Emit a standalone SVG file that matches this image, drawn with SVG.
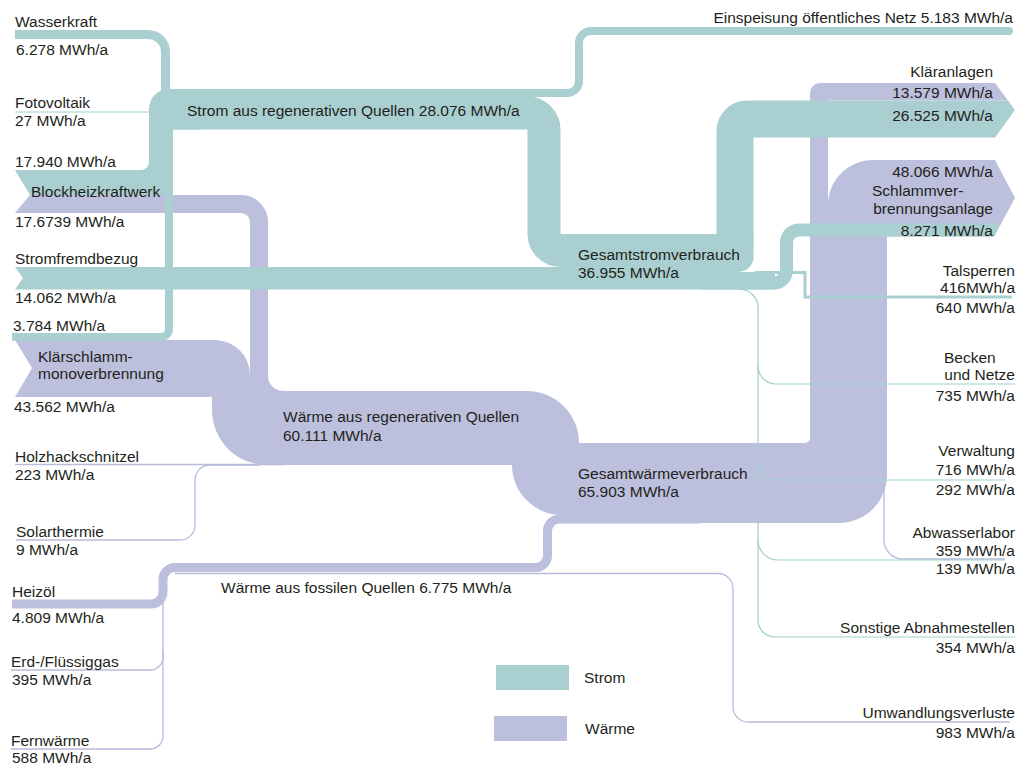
<svg xmlns="http://www.w3.org/2000/svg" width="1026" height="766" viewBox="0 0 1026 766">
<style>
text{font-family:"Liberation Sans",Arial,Helvetica,sans-serif;font-size:15.5px;fill:#231f20}
.r{text-anchor:end}
.tf{fill:#aacfd0}
.lf{fill:#bcc0dc}
.ts{fill:none;stroke:#aacfd0}
.tl{fill:none;stroke:#9fcfcc;stroke-width:1.2}
.ls{fill:none;stroke:#bcc0dc}
.ll{fill:none;stroke:#b8bcdc;stroke-width:1.3}
</style>
<rect width="1026" height="766" fill="#ffffff"/>
<g id="connectors">
  <g id="waerme-flows">
    <path class="lf" d="M15,340 H215 A35,35 0 0 1 250,375 H268 V376 A15,15 0 0 0 283,391 H527 A52,52 0 0 1 579,443 H805 A5,5 0 0 0 810,438 V93 A10,10 0 0 1 820,83 H995 L1008,100.5 H828 V205 A45,45 0 0 1 873,160 H995 L1015,198 L994,236.5 H887 V475 A48,48 0 0 1 839,523 H600 V515 H562 A50,50 0 0 1 512,465 H267 A55,55 0 0 1 212,410 V397 H15 L32,368 Z"/>
    <polygon class="lf" points="30,195 60,195 60,213 15,213"/>
    <path class="ls" stroke-width="18" d="M55,204 H241 A18,18 0 0 1 259,222 V385"/>
    <path class="ls" stroke-width="9" d="M12,604 H151 A12,12 0 0 0 163,592 V579.5 A12,12 0 0 1 175,567.5 H535.5 A12,12 0 0 0 547.5,555.5 V531 A12,12 0 0 1 559.5,519 H700"/>
    <path class="ll" stroke-width="1.5" d="M15,464.5 H285"/>
    <path class="ll" d="M16,540 H180 A15,15 0 0 0 195,525 V480 A15,15 0 0 1 210,465 H260"/>
    <path class="ll" d="M11,670 H150 A13,13 0 0 0 163,657 V600"/>
    <path class="ll" d="M11,749 H150 A13,13 0 0 0 163,736 V650"/>
    <path class="ll" stroke-width="1.5" d="M175,573.5 H718 A15,15 0 0 1 733,588.5 V707 A15,15 0 0 0 748,722 H1010"/>
    <path class="ll" d="M884,476 V540 A19,19 0 0 0 903,559 H1005"/>
  </g>
  <g id="strom-flows">
    <path class="ts" stroke-width="9" d="M15,34.5 H148 A17.5,17.5 0 0 1 165.5,52 V100"/>
    <path class="tl" stroke-width="1.5" d="M15,112 H150"/>
    <path class="tf" d="M15,170 H141 A8,8 0 0 0 149,162 V109 A20,20 0 0 1 169,89 H200 V129.5 H173 V195 H30 Z"/>
    <path class="ts" stroke-width="8" stroke-linecap="round" d="M169,93 H567 A12,12 0 0 0 579,81 V43 A12,12 0 0 1 591,31 H1009"/>
    <path class="ts" stroke-width="33" d="M169,113 H527.5 A16.5,16.5 0 0 1 544,129.5 V234 A16.5,16.5 0 0 0 560.5,250.5 H700"/>
    <path class="ts" stroke-width="8" d="M12,337 H161 A8,8 0 0 0 169,329 V185"/>
    <path class="tf" d="M15,267 H738 V272 H775 V289.5 H15 L23,278 Z"/>
    <path class="tf" d="M560,234 H753.5 V257 A15,15 0 0 1 738.5,272 H560 Z"/>
    <path class="ts" stroke-width="37" d="M735,250 V131 A12,12 0 0 1 747,119 H990"/>
    <polygon class="tf" points="990,100.5 1008,100.5 1015,110 995,137.5 990,137.5"/>
    <path class="ts" stroke-width="13" d="M700,283 H774 A12.5,12.5 0 0 0 786.5,270.5 V242.5 A12.5,12.5 0 0 1 799,230 H990"/>
    <polygon class="tf" points="989,223.5 1001,223.5 994.2,236.5 989,236.5"/>
    <path class="ts" stroke-width="3" d="M755,272.5 H805 V297 H1012"/>
    <path class="tl" d="M740,289.5 A18,18 0 0 1 758,307.5 V620 A17,17 0 0 0 775,637 H1015"/>
    <path class="tl" d="M758,366 A18,18 0 0 0 776,384 H1015"/>
    <path class="tl" d="M758,462 A18,18 0 0 0 776,480 H1005"/>
    <path class="tl" d="M758,540 A20,20 0 0 0 778,560 H1005"/>
  </g>
</g>
<g id="node-wasserkraft"><text x="15" y="27">Wasserkraft</text><text x="16" y="55">6.278 MWh/a</text></g>
<g id="node-fotovoltaik"><text x="15" y="108">Fotovoltaik</text><text x="15" y="126">27 MWh/a</text></g>
<g id="node-bhkw"><text x="15" y="167">17.940 MWh/a</text><text x="31" y="197">Blockheizkraftwerk</text><text x="15" y="227">17.6739 MWh/a</text></g>
<g id="node-stromfremdbezug"><text x="15" y="264">Stromfremdbezug</text><text x="15" y="303">14.062 MWh/a</text></g>
<g id="node-klaerschlamm"><text x="13" y="331">3.784 MWh/a</text><text x="38" y="362">Klärschlamm-</text><text x="38" y="379">monoverbrennung</text><text x="14" y="412">43.562 MWh/a</text></g>
<g id="node-holz"><text x="15" y="462">Holzhackschnitzel</text><text x="15" y="480">223 MWh/a</text></g>
<g id="node-solar"><text x="16" y="537">Solarthermie</text><text x="16" y="555">9 MWh/a</text></g>
<g id="node-heizoel"><text x="12" y="597">Heizöl</text><text x="12" y="623">4.809 MWh/a</text></g>
<g id="node-gas"><text x="11" y="667">Erd-/Flüssiggas</text><text x="12" y="685">395 MWh/a</text></g>
<g id="node-fernwaerme"><text x="11" y="746">Fernwärme</text><text x="12" y="763">588 MWh/a</text></g>
<g id="node-strom-regen"><text x="187" y="116">Strom aus regenerativen Quellen 28.076 MWh/a</text></g>
<g id="node-gesamtstrom"><text x="578" y="260">Gesamtstromverbrauch</text><text x="578" y="278">36.955 MWh/a</text></g>
<g id="node-waerme-regen"><text x="283" y="422">Wärme aus regenerativen Quellen</text><text x="283" y="441">60.111 MWh/a</text></g>
<g id="node-gesamtwaerme"><text x="578" y="479">Gesamtwärmeverbrauch</text><text x="578" y="497">65.903 MWh/a</text></g>
<g id="node-waerme-fossil"><text x="221" y="593">Wärme aus fossilen Quellen 6.775 MWh/a</text></g>
<g id="node-einspeisung"><text class="r" x="1013" y="23">Einspeisung öffentliches Netz 5.183 MWh/a</text></g>
<g id="node-klaeranlagen"><text class="r" x="993" y="77">Kläranlagen</text><text class="r" x="993" y="98">13.579 MWh/a</text><text class="r" x="993" y="121">26.525 MWh/a</text></g>
<g id="node-schlammverbrennung"><text class="r" x="993" y="177">48.066 MWh/a</text><text x="872" y="196">Schlammver-</text><text class="r" x="993" y="214">brennungsanlage</text><text class="r" x="993" y="236">8.271 MWh/a</text></g>
<g id="node-talsperren"><text class="r" x="1015" y="276">Talsperren</text><text class="r" x="1015" y="293">416MWh/a</text><text class="r" x="1015" y="313">640 MWh/a</text></g>
<g id="node-becken"><text x="944" y="363">Becken</text><text class="r" x="1015" y="380">und Netze</text><text class="r" x="1015" y="401">735 MWh/a</text></g>
<g id="node-verwaltung"><text class="r" x="1015" y="456">Verwaltung</text><text class="r" x="1015" y="475">716 MWh/a</text><text class="r" x="1015" y="495">292 MWh/a</text></g>
<g id="node-abwasserlabor"><text class="r" x="1015" y="538">Abwasserlabor</text><text class="r" x="1015" y="556">359 MWh/a</text><text class="r" x="1015" y="574">139 MWh/a</text></g>
<g id="node-sonstige"><text class="r" x="1015" y="633">Sonstige Abnahmestellen</text><text class="r" x="1015" y="653">354 MWh/a</text></g>
<g id="node-umwandlung"><text class="r" x="1015" y="718">Umwandlungsverluste</text><text class="r" x="1015" y="738">983 MWh/a</text></g>
<g id="legend">
  <rect class="tf" x="496" y="665" width="73" height="25"/>
  <text x="584" y="683">Strom</text>
  <rect class="lf" x="494" y="716" width="73" height="25"/>
  <text x="585" y="734">Wärme</text>
</g>
</svg>
